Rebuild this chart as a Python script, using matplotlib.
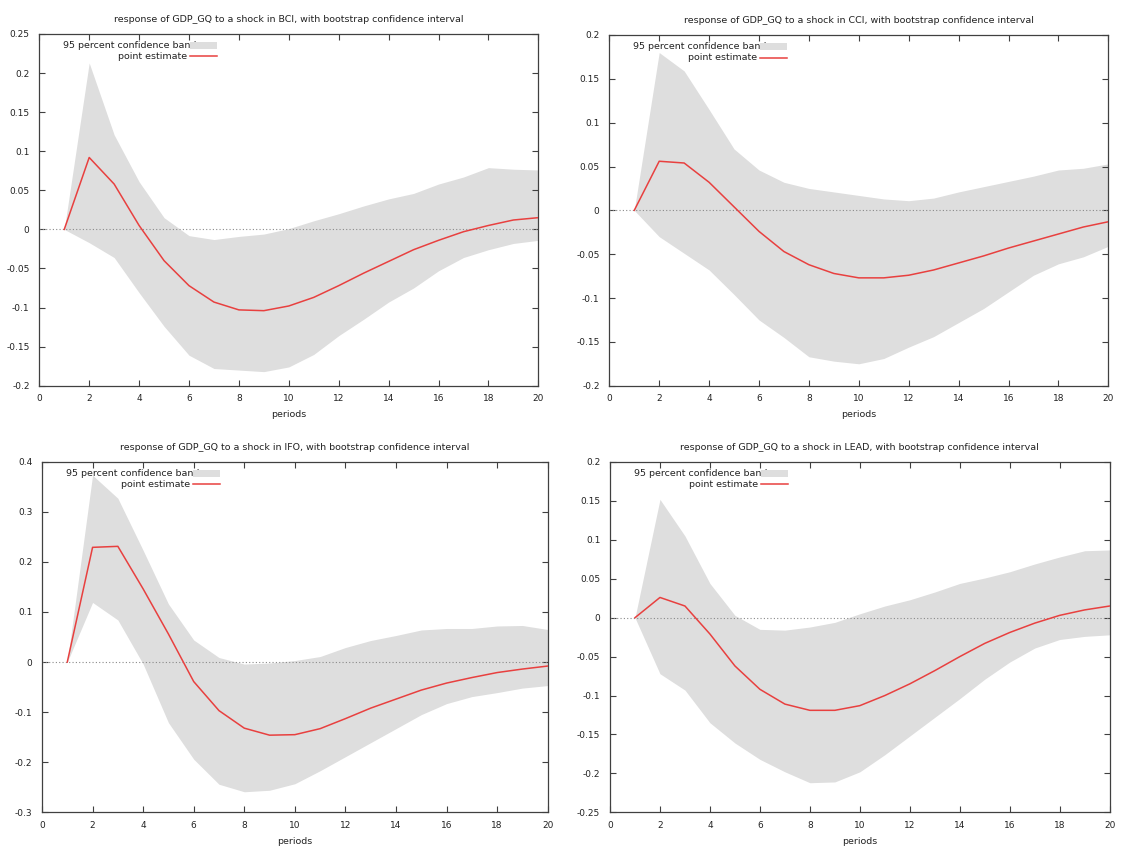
import matplotlib
matplotlib.use("Agg")
import matplotlib.pyplot as plt
from matplotlib.patches import Rectangle
from matplotlib.lines import Line2D
from matplotlib.ticker import FuncFormatter, MultipleLocator

plt.rcParams["font.family"] = ["DejaVu Sans"]

# ── Daten ──────────────────────────────────────────────────────────
periods = list(range(1, 21))

shocks = ["BCI", "CCI", "IFO", "LEAD"]

bci_point = [0, 0.092, 0.058, 0.005, -0.040, -0.072, -0.093, -0.103, -0.104, -0.098,
             -0.087, -0.072, -0.056, -0.041, -0.026, -0.014, -0.003, 0.005, 0.012, 0.015]
bci_upper = [0, 0.213, 0.121, 0.061, 0.015, -0.008, -0.013, -0.009, -0.006, 0.001,
             0.011, 0.020, 0.030, 0.039, 0.046, 0.058, 0.067, 0.079, 0.077, 0.076]
bci_lower = [0, -0.017, -0.036, -0.081, -0.124, -0.161, -0.178, -0.180, -0.182, -0.176,
             -0.160, -0.136, -0.115, -0.093, -0.075, -0.053, -0.036, -0.026, -0.018, -0.014]

cci_point = [0, 0.056, 0.054, 0.032, 0.004, -0.024, -0.047, -0.062, -0.072, -0.077,
             -0.077, -0.074, -0.068, -0.060, -0.052, -0.043, -0.035, -0.027, -0.019, -0.013]
cci_upper = [0, 0.180, 0.159, 0.115, 0.070, 0.046, 0.032, 0.025, 0.021, 0.017,
             0.013, 0.011, 0.014, 0.021, 0.027, 0.033, 0.039, 0.046, 0.048, 0.053]
cci_lower = [0, -0.030, -0.049, -0.068, -0.096, -0.125, -0.145, -0.167, -0.172, -0.175,
             -0.169, -0.156, -0.144, -0.128, -0.112, -0.093, -0.074, -0.061, -0.053, -0.041]

ifo_point = [0, 0.229, 0.231, 0.146, 0.056, -0.039, -0.097, -0.132, -0.146, -0.145,
             -0.133, -0.113, -0.092, -0.074, -0.056, -0.042, -0.031, -0.021, -0.014, -0.008]
ifo_upper = [0, 0.373, 0.327, 0.223, 0.116, 0.044, 0.009, -0.004, -0.002, 0.003,
             0.011, 0.029, 0.043, 0.053, 0.064, 0.067, 0.067, 0.072, 0.073, 0.065]
ifo_lower = [0, 0.119, 0.084, -0.004, -0.121, -0.194, -0.244, -0.259, -0.256, -0.243,
             -0.217, -0.189, -0.161, -0.133, -0.105, -0.083, -0.069, -0.061, -0.052, -0.047]

lead_point = [0, 0.026, 0.015, -0.021, -0.062, -0.092, -0.111, -0.119, -0.119, -0.113,
              -0.100, -0.085, -0.068, -0.050, -0.033, -0.019, -0.007, 0.003, 0.010, 0.015]
lead_upper = [0, 0.152, 0.105, 0.044, 0.003, -0.015, -0.016, -0.012, -0.006, 0.005,
              0.015, 0.023, 0.033, 0.044, 0.051, 0.059, 0.069, 0.078, 0.086, 0.087]
lead_lower = [0, -0.072, -0.093, -0.135, -0.161, -0.182, -0.198, -0.212, -0.211, -0.198,
              -0.176, -0.152, -0.128, -0.104, -0.079, -0.057, -0.039, -0.028, -0.024, -0.022]

points = [bci_point, cci_point, ifo_point, lead_point]
uppers = [bci_upper, cci_upper, ifo_upper, lead_upper]
lowers = [bci_lower, cci_lower, ifo_lower, lead_lower]

# y-Achsen: (min, max, Schritt)
y_ranges = [(-0.2, 0.25, 0.05), (-0.2, 0.2, 0.05), (-0.3, 0.4, 0.1), (-0.25, 0.2, 0.05)]

# ── Layout (Pixel der Vorlage) ─────────────────────────────────────
W, H = 1121, 848
boxes = [(39.3, 34.0, 538.3, 385.7),
         (609.3, 35.0, 1108.3, 385.7),
         (42.0, 461.7, 547.7, 812.3),
         (610.0, 462.0, 1109.7, 812.3)]

BAND = "#dedede"
RED = "#e8403f"
SPINE = "#404040"
TXT = "#222222"
FS = 6.8      # Titel, Legende, Achsenbeschriftung
FS_TICK = 6.5

fig = plt.figure(figsize=(W / 100, H / 100), dpi=100, facecolor="white")

for i, name in enumerate(shocks):
    x0, y0, x1, y1 = boxes[i]
    ax = fig.add_axes([x0 / W, 1 - y1 / H, (x1 - x0) / W, (y1 - y0) / H])
    lo, hi, step = y_ranges[i]

    ax.fill_between(periods, lowers[i], uppers[i], color=BAND, lw=0, zorder=1)
    ax.axhline(0, color="#8a8a8a", lw=0.8, ls=(0, (1, 2)), zorder=2)
    ax.plot(periods, points[i], color=RED, lw=1.1, zorder=3)

    ax.set_xlim(0, 20)
    ax.set_ylim(lo, hi)
    ax.xaxis.set_major_locator(MultipleLocator(2))
    ax.yaxis.set_major_locator(MultipleLocator(step))
    ax.yaxis.set_major_formatter(FuncFormatter(lambda v, p: f"{round(v, 4):g}" if abs(v) > 1e-9 else "0"))
    ax.tick_params(direction="in", length=4, width=0.8, color=SPINE,
                   top=True, right=True, labelsize=FS_TICK, labelcolor=TXT)
    ax.tick_params(axis="y", pad=7)
    ax.tick_params(axis="x", pad=6)
    for sp in ax.spines.values():
        sp.set_color(SPINE)
        sp.set_linewidth(0.9)

    ax.set_title(f"response of GDP_GQ to a shock in {name}, with bootstrap confidence interval",
                 fontsize=FS, pad=8.5, color=TXT)
    ax.set_xlabel("periods", fontsize=FS, labelpad=5, color=TXT)

    # ── Legende im gnuplot-Stil ────────────────────────────────────
    px = 151 / (x1 - x0)            # Start des Legendenmusters
    pw = 27 / (x1 - x0)
    r1 = 1 - 11.5 / (y1 - y0)
    r2 = 1 - 22.5 / (y1 - y0)
    ax.text(px + 6 / (x1 - x0), r1, "95 percent confidence band", transform=ax.transAxes,
            ha="right", va="center", fontsize=FS, color=TXT, zorder=5)
    ax.add_patch(Rectangle((px, r1 - 3.5 / (y1 - y0)), pw, 7 / (y1 - y0),
                           transform=ax.transAxes, facecolor=BAND, edgecolor="none", zorder=6))
    ax.text(px - 3 / (x1 - x0), r2, "point estimate", transform=ax.transAxes,
            ha="right", va="center", fontsize=FS, color=TXT, zorder=5)
    ax.add_line(Line2D([px, px + pw], [r2, r2], transform=ax.transAxes,
                       color=RED, lw=1.1, zorder=6))

fig.savefig("out.png", dpi=100, facecolor="white")
plt.close(fig)
